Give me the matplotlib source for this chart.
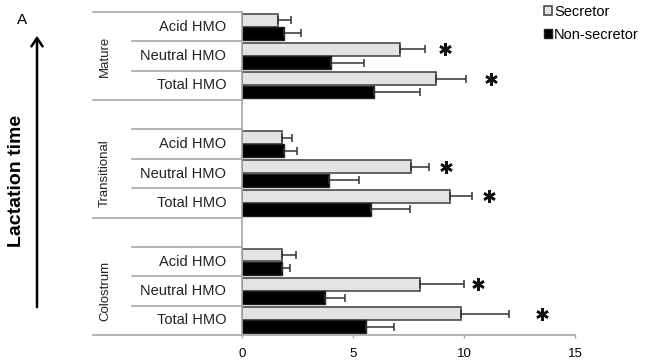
import matplotlib
matplotlib.use("Agg")
import matplotlib.pyplot as plt
import matplotlib.transforms as mtransforms
import numpy as np

plt.rcParams["font.family"] = ["Liberation Sans", "DejaVu Sans"]

stages = ["Mature", "Transitional", "Colostrum"]
fractions = ["Acid HMO", "Neutral HMO", "Total HMO"]

# mean concentration per stage, in the order of `fractions`
secretor_mean = [[1.62, 7.10, 8.76], [1.82, 7.60, 9.36], [1.82, 8.04, 9.85]]
secretor_sd = [[0.60, 1.13, 1.35], [0.45, 0.82, 1.02], [0.63, 1.95, 2.18]]
nonsec_mean = [[1.88, 4.03, 5.93], [1.88, 3.92, 5.80], [1.82, 3.73, 5.57]]
nonsec_sd = [[0.79, 1.45, 2.11], [0.60, 1.35, 1.75], [0.36, 0.93, 1.28]]

# significance marks: (stage index, fraction index, x position)
stars = [(0, 1, 9.13), (0, 2, 11.23), (1, 1, 9.2), (1, 2, 11.11),
         (2, 1, 10.62), (2, 2, 13.53)]

GRID = "#a6a6a6"
LIGHT = "#e3e3e3"

W, H = 653, 360
fig = plt.figure(figsize=(W / 100, H / 100), dpi=100)
ax = fig.add_axes([242 / W, 1 - 335 / H, (575 - 242) / W, (335 - 12) / H])

# one slot per fraction, plus an empty slot between stages
rows = np.array([[s * 4 + f for f in range(3)] for s in range(3)], dtype=float)
off, bh = 0.225, 0.44

sec = ax.barh(rows.ravel() - off, np.ravel(secretor_mean), height=bh,
              color=LIGHT, edgecolor="#4a4a4a", linewidth=1.2, label="Secretor", zorder=2)
non = ax.barh(rows.ravel() + off, np.ravel(nonsec_mean), height=bh,
              color="black", edgecolor="#202020", linewidth=1.0, label="Non-secretor", zorder=2)

zeros = np.zeros(9)
ax.errorbar(np.ravel(secretor_mean), rows.ravel() - off,
            xerr=[zeros, np.ravel(secretor_sd)], fmt="none", ecolor="#333333",
            elinewidth=1.1, capsize=3, capthick=1.1, zorder=3)
ax.errorbar(np.ravel(nonsec_mean), rows.ravel() + off,
            xerr=[zeros, np.ravel(nonsec_sd)], fmt="none", ecolor="#333333",
            elinewidth=1.1, capsize=3, capthick=1.1, zorder=3)

for s, f, x in stars:
    ax.plot(x, rows[s, f] - off, marker=(6, 2, 0), markersize=9, mew=1.8,
            color="#111111", clip_on=False, zorder=4)

ax.set_xlim(0, 15)
ax.set_ylim(10.5, -0.5)
ax.set_xticks([0, 5, 10, 15])
ax.set_yticks([])
ax.tick_params(axis="x", length=2.5, width=1, color=GRID, labelsize=9.5, pad=7)
for side in ("top", "right"):
    ax.spines[side].set_visible(False)
for side in ("left", "bottom"):
    ax.spines[side].set_color(GRID)
    ax.spines[side].set_linewidth(1.2)

# two-level category labels to the left of the axis
trans = mtransforms.blended_transform_factory(ax.transAxes, ax.transData)
long_x, short_x = (93 - 242) / 333, (132 - 242) / 333
for s, stage in enumerate(stages):
    top = s * 4 - 0.5
    ax.plot([long_x if s == 0 else short_x, 0], [top, top], color=GRID, lw=1.2,
            transform=trans, clip_on=False)
    for f, name in enumerate(fractions):
        y = rows[s, f]
        ax.text(-0.048, y, name, transform=trans, ha="right", va="center",
                fontsize=10.5, color="#222222")
        if f < 2:
            ax.plot([short_x, 0], [y + 0.5, y + 0.5], color=GRID, lw=1.2,
                    transform=trans, clip_on=False)
    bottom = s * 4 + 2.5
    ax.plot([long_x, 0], [bottom, bottom], color=GRID, lw=1.2,
            transform=trans, clip_on=False)
    ax.text((105 - 242) / 333, rows[s, 1], stage, transform=trans, rotation=90,
            ha="center", va="center", fontsize=9.5, color="#222222")

fig.legend(handles=[sec, non], loc="upper left", bbox_to_anchor=(541 / W, 1 - 2 / H),
           frameon=False, fontsize=10.5, handlelength=0.55, handleheight=0.55,
           handletextpad=0.15, labelspacing=0.6, borderaxespad=0, borderpad=0.2)

fig.text(22 / W, 1 - 20 / H, "A", ha="center", va="center", fontsize=11)
fig.text(17 / W, 1 - 181 / H, "Lactation time", rotation=90, ha="center",
         va="center", fontsize=14, fontweight="bold")
fig.add_artist(matplotlib.patches.FancyArrowPatch(
    (37 / W, 1 - 310 / H), (37 / W, 1 - 33 / H), transform=fig.transFigure,
    arrowstyle="->,head_width=4,head_length=6", color="black", lw=1.8,
    mutation_scale=1))

fig.savefig("out.png", dpi=100)
